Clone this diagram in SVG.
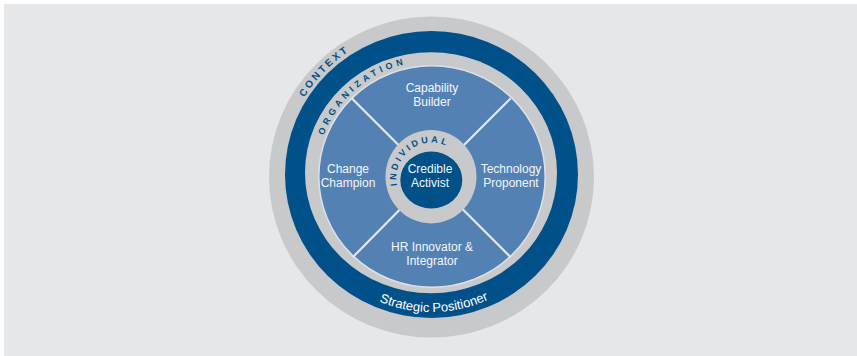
<svg xmlns="http://www.w3.org/2000/svg" width="857" height="356" viewBox="0 0 857 356">
  <defs>
    <style>
      .bg { fill: #e6e7e8; }
      .ring-grey { fill: #c8c9cb; }
      .ring-dark { fill: #00508a; }
      .disc { fill: #5381b3; stroke: #dbe1e8; stroke-width: 1.5; }
      .core { fill: #00508a; }
      .divider { stroke: #e2e7ee; stroke-width: 2.2; fill: none; }
      .role { font-family: "Liberation Sans", Arial, sans-serif; font-size: 12px; fill: #f3f6fa; text-anchor: middle; }
      .layer { font-family: "Liberation Sans", Arial, sans-serif; font-weight: bold; fill: #00508a; text-anchor: middle; }
      .band { font-family: "Liberation Sans", Arial, sans-serif; font-size: 13px; fill: #ffffff; text-anchor: middle; }
    </style>
    <!-- baselines for the curved ring labels -->
    <path id="arc-context" d="M 282.74 190.85 A 149.5 149.5 0 0 1 442.71 26.92"/>
    <path id="arc-organization" d="M 318.03 198.04 A 115.5 115.5 0 0 1 469.58 67.46"/>
    <path id="arc-individual" d="M 397.57 187.38 A 35.5 35.5 0 0 1 449.93 147.56"/>
    <path id="arc-strategic" d="M 304.62 224.96 A 136 136 0 0 0 560.17 220.05"/>
  </defs>

  <rect x="4" y="4" width="853" height="352" class="bg"/>

  <!-- outer context ring -->
  <g id="context">
    <ellipse cx="431.5" cy="177" rx="162.5" ry="160.5" class="ring-grey"/>
    <text class="layer" font-size="10" letter-spacing="2.6"><textPath href="#arc-context" startOffset="50%">CONTEXT</textPath></text>
  </g>

  <!-- strategic positioner band -->
  <g id="strategic-positioner">
    <ellipse cx="431.5" cy="174.5" rx="146.5" ry="143.5" class="ring-dark"/>
    <text class="band"><textPath href="#arc-strategic" startOffset="50%">Strategic Positioner</textPath></text>
  </g>

  <!-- organization ring -->
  <g id="organization">
    <ellipse cx="431" cy="172.7" rx="126" ry="120.5" class="ring-grey"/>
    <text class="layer" font-size="9" letter-spacing="3.8"><textPath href="#arc-organization" startOffset="50%">ORGANIZATION</textPath></text>
  </g>

  <!-- role disc -->
  <g id="role-disc">
    <ellipse cx="432" cy="176.5" rx="113.2" ry="110.8" class="disc"/>
  </g>

  <!-- dividers between the four roles -->
  <g id="connectors">
    <line x1="351.7" y1="98.3" x2="431.2" y2="177.8" class="divider"/>
    <line x1="510.7" y1="98.3" x2="431.2" y2="177.8" class="divider"/>
    <line x1="352.7" y1="257.3" x2="431.2" y2="177.8" class="divider"/>
    <line x1="510.7" y1="257.3" x2="431.2" y2="177.8" class="divider"/>
  </g>

  <g id="capability-builder">
    <text class="role" x="432" y="92">Capability</text>
    <text class="role" x="432" y="106">Builder</text>
  </g>

  <g id="change-champion">
    <text class="role" x="348" y="173">Change</text>
    <text class="role" x="348" y="187">Champion</text>
  </g>

  <g id="technology-proponent">
    <text class="role" x="511" y="173">Technology</text>
    <text class="role" x="511" y="187">Proponent</text>
  </g>

  <g id="hr-innovator-integrator">
    <text class="role" x="432" y="251">HR Innovator &amp;</text>
    <text class="role" x="432" y="265">Integrator</text>
  </g>

  <!-- individual ring and core -->
  <g id="individual">
    <ellipse cx="431" cy="176.7" rx="45.5" ry="46.7" class="ring-grey"/>
    <text class="layer" font-size="9" letter-spacing="2.8"><textPath href="#arc-individual" startOffset="50%">INDIVIDUAL</textPath></text>
  </g>

  <g id="credible-activist">
    <ellipse cx="431.3" cy="180" rx="31" ry="28.5" class="core"/>
    <text class="role" x="430" y="173">Credible</text>
    <text class="role" x="430" y="187">Activist</text>
  </g>
</svg>
